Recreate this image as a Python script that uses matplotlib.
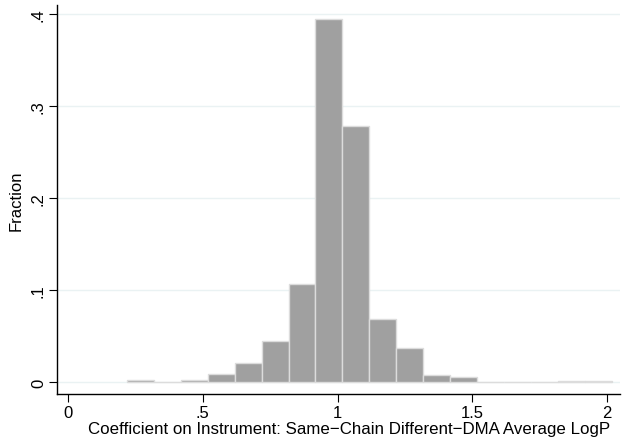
import numpy as np
import matplotlib
matplotlib.use("Agg")
import matplotlib.pyplot as plt

plt.rcParams['font.family'] = ['Liberation Sans', 'DejaVu Sans']

# histogram: left edge of each bin (width 0.1) and fraction in it
bin_left = [0.218, 0.318, 0.418, 0.518, 0.618, 0.718, 0.818, 0.918, 1.018,
            1.118, 1.218, 1.318, 1.418, 1.518, 1.618, 1.718, 1.818, 1.918]
fraction = [0.002, 0.0007, 0.003, 0.0095, 0.021, 0.045, 0.107, 0.395, 0.279,
            0.069, 0.037, 0.008, 0.006, 0.0007, 0.0007, 0.0, 0.0015, 0.0015]
bin_width = 0.1

xticks = [0, 0.5, 1, 1.5, 2]
xtick_labels = ["0", ".5", "1", "1.5", "2"]
yticks = [0, 0.1, 0.2, 0.3, 0.4]
ytick_labels = ["0", ".1", ".2", ".3", ".4"]

fig = plt.figure(figsize=(6.23, 4.39), dpi=100)
ax = fig.add_axes([57 / 623, 1 - 395 / 439, (620 - 57) / 623, (395 - 6) / 439])

ax.bar(bin_left, fraction, width=bin_width, align='edge',
       color='#a0a0a0', edgecolor='#dcdcdc', linewidth=1.0, zorder=2)

ax.set_xlim(-0.041, 2.048)
ax.set_ylim(-0.0127, 0.410)

ax.set_xticks(xticks)
ax.set_xticklabels(xtick_labels, fontsize=12)
ax.set_yticks(yticks)
ax.set_yticklabels(ytick_labels, fontsize=12, rotation=90, va='center')

ax.grid(axis='y', color='#eaf2f3', linewidth=1.0, zorder=0)
ax.grid(axis='x', visible=False)

for side in ['top', 'right']:
    ax.spines[side].set_visible(False)
ax.spines['left'].set_linewidth(1.0)
ax.spines['bottom'].set_linewidth(1.0)
ax.tick_params(direction='out', length=6, width=0.8, pad=2)

ax.set_ylabel("Fraction", fontsize=12, labelpad=5)
ax.set_xlabel("Coefficient on Instrument: Same\u2212Chain Different\u2212DMA Average LogP",
              fontsize=12.2)
ax.xaxis.set_label_coords(0.518, -0.069)

fig.savefig("out.png", dpi=100, facecolor='white')
